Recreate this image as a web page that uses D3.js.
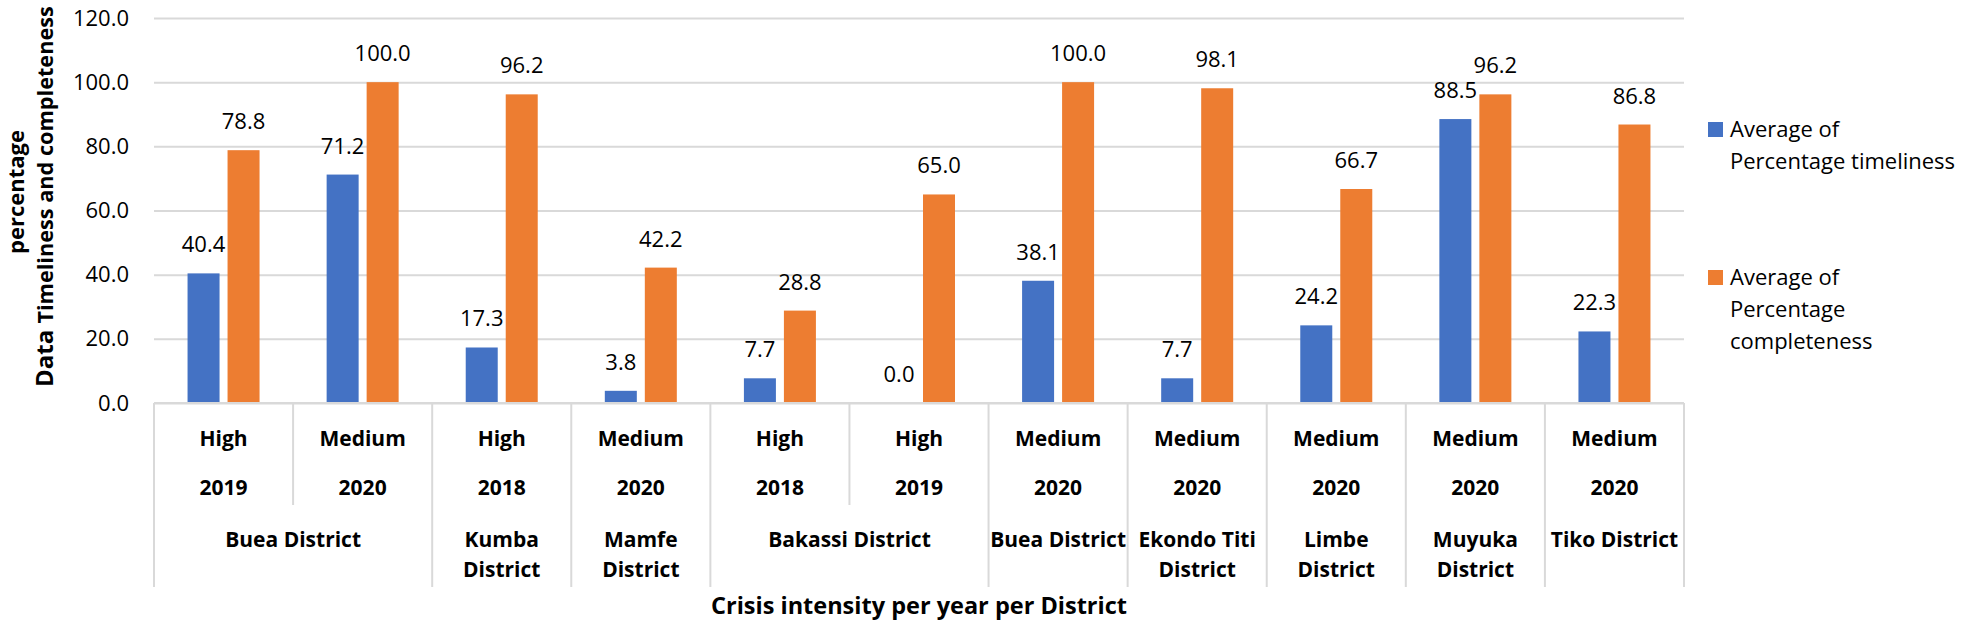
<!DOCTYPE html>
<html>
<head>
<meta charset="utf-8">
<script src="https://cdn.jsdelivr.net/npm/d3@7"></script>
<style>
  body { margin: 0; background: #fff; }
  text { font-family: "Open Sans", "Noto Sans", sans-serif; fill: #000; }
</style>
</head>
<body>
<script>
var intensity = ["High", "Medium", "High", "Medium", "High", "High", "Medium", "Medium", "Medium", "Medium", "Medium"];
var years = ["2019", "2020", "2018", "2020", "2018", "2019", "2020", "2020", "2020", "2020", "2020"];
var districts = [
  { name: ["Buea District"], span: 2 },
  { name: ["Kumba", "District"], span: 1 },
  { name: ["Mamfe", "District"], span: 1 },
  { name: ["Bakassi District"], span: 2 },
  { name: ["Buea District"], span: 1 },
  { name: ["Ekondo Titi", "District"], span: 1 },
  { name: ["Limbe", "District"], span: 1 },
  { name: ["Muyuka", "District"], span: 1 },
  { name: ["Tiko District"], span: 1 }
];
var timeliness = [40.4, 71.2, 17.3, 3.8, 7.7, 0.0, 38.1, 7.7, 24.2, 88.5, 22.3];
var completeness = [78.8, 100.0, 96.2, 42.2, 28.8, 65.0, 100.0, 98.1, 66.7, 96.2, 86.8];
var seriesNames = ["Average of Percentage timeliness", "Average of Percentage completeness"];
var yTicks = [0, 20, 40, 60, 80, 100, 120];

var svgWidth = 1961;
var svgHeight = 624;
var plotLeft = 154, plotRight = 1684, plotTop = 18, plotBottom = 403;
var colors = ["#4472C4", "#ED7D31"];
var gridColor = "#d9d9d9";

var svg = d3.select("body")
  .append("svg")
  .attr("width", svgWidth)
  .attr("height", svgHeight);

var x0 = d3.scaleBand()
  .domain(d3.range(intensity.length))
  .range([plotLeft, plotRight]);

var half = 36;
var x1 = d3.scaleBand()
  .domain([0, 1])
  .range([x0.bandwidth() / 2 - half, x0.bandwidth() / 2 + half])
  .paddingInner(0.2);

var y = d3.scaleLinear()
  .domain([0, 120])
  .range([plotBottom, plotTop]);

// gridlines + tick labels
var leftAxis = d3.axisLeft(y)
  .tickValues(yTicks)
  .tickFormat(d3.format(".1f"))
  .tickSize(-(plotRight - plotLeft))
  .tickPadding(25);

var yAxis = svg.append("g")
  .attr("transform", `translate(${plotLeft}, 0)`)
  .call(leftAxis);
yAxis.select(".domain").remove();
yAxis.selectAll(".tick line")
  .attr("stroke", gridColor)
  .attr("stroke-width", 2);
yAxis.selectAll(".tick text")
  .style("font-size", "22px")
  .style("font-family", "'Open Sans', sans-serif")
  .attr("fill", "#000");

// bars
var rows = intensity.map(function(d, i) {
  return { i: i, vals: [timeliness[i], completeness[i]] };
});

var groups = svg.selectAll(".grp")
  .data(rows)
  .enter()
  .append("g")
  .attr("class", "grp")
  .attr("transform", d => `translate(${x0(d.i)}, 0)`);

groups.selectAll("rect")
  .data(d => d.vals.map((v, k) => ({ k: k, v: v })))
  .enter()
  .append("rect")
  .attr("x", d => x1(d.k))
  .attr("width", x1.bandwidth())
  .attr("y", d => y(d.v))
  .attr("height", d => y(0) - y(d.v))
  .attr("fill", d => colors[d.k]);

groups.selectAll(".lbl")
  .data(d => d.vals.map((v, k) => ({ k: k, v: v })))
  .enter()
  .append("text")
  .attr("class", "lbl")
  .attr("x", d => x1(d.k) + x1.bandwidth() / 2)
  .attr("y", d => y(d.v) - 21)
  .style("text-anchor", "middle")
  .style("font-size", "22px")
  .text(d => d.v.toFixed(1));

// category axis line
svg.append("line")
  .attr("x1", plotLeft).attr("x2", plotRight)
  .attr("y1", y(0)).attr("y2", y(0))
  .attr("stroke", gridColor)
  .attr("stroke-width", 2);

// separators
var boundaries = [0];
districts.forEach(function(d) { boundaries.push(boundaries[boundaries.length - 1] + d.span); });
d3.range(intensity.length + 1).forEach(function(i) {
  var xx = i < intensity.length ? x0(i) : plotRight;
  var isLong = boundaries.indexOf(i) >= 0;
  svg.append("line")
    .attr("x1", xx).attr("x2", xx)
    .attr("y1", y(0)).attr("y2", isLong ? 587 : 505)
    .attr("stroke", gridColor)
    .attr("stroke-width", 2);
});

// category labels
svg.selectAll(".int")
  .data(intensity)
  .enter()
  .append("text")
  .attr("x", (d, i) => x0(i) + x0.bandwidth() / 2)
  .attr("y", 446)
  .style("text-anchor", "middle")
  .style("font-size", "21px")
  .style("font-weight", "bold")
  .text(d => d);

svg.selectAll(".yr")
  .data(years)
  .enter()
  .append("text")
  .attr("x", (d, i) => x0(i) + x0.bandwidth() / 2)
  .attr("y", 495)
  .style("text-anchor", "middle")
  .style("font-size", "21px")
  .style("font-weight", "bold")
  .text(d => d);

districts.forEach(function(d, j) {
  var start = boundaries[j];
  var cx = x0(start) + x0.bandwidth() * d.span / 2;
  var t = svg.append("text")
    .style("text-anchor", "middle")
    .style("font-size", "21px")
    .style("font-weight", "bold");
  d.name.forEach(function(line, k) {
    t.append("tspan")
      .attr("x", cx)
      .attr("y", 547 + k * 30)
      .text(line);
  });
});

// axis titles
svg.append("text")
  .attr("x", (plotLeft + plotRight) / 2)
  .attr("y", 614)
  .style("text-anchor", "middle")
  .style("font-size", "23.5px")
  .style("font-weight", "bold")
  .text("Crisis intensity per year per District");

svg.append("text")
  .attr("transform", "rotate(-90)")
  .attr("x", -192)
  .attr("y", 24)
  .style("text-anchor", "middle")
  .style("font-size", "22px")
  .style("font-weight", "bold")
  .text("percentage");

var yt = svg.append("text")
  .attr("transform", "rotate(-90)")
  .attr("x", -387)
  .attr("y", 53)
  .style("text-anchor", "start")
  .style("font-weight", "bold");
yt.append("tspan").style("font-size", "24px").text("Data ");
yt.append("tspan").style("font-size", "21.7px").text("Timeliness and completeness");

// legend
var legendItems = [
  { lines: ["Average of", "Percentage timeliness"], top: 122 },
  { lines: ["Average of", "Percentage", "completeness"], top: 270 }
];
legendItems.forEach(function(it, k) {
  svg.append("rect")
    .attr("x", 1708)
    .attr("y", it.top)
    .attr("width", 15)
    .attr("height", 15)
    .attr("fill", colors[k]);
  var t = svg.append("text")
    .style("font-size", "22px");
  it.lines.forEach(function(line, m) {
    t.append("tspan")
      .attr("x", 1730)
      .attr("y", it.top + 15 + m * 32)
      .text(line);
  });
});
</script>
</body>
</html>
